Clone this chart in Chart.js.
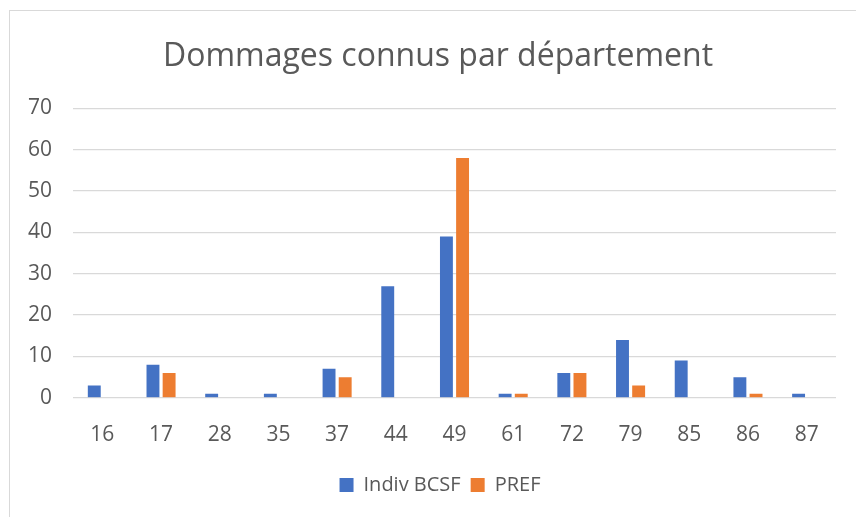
<!DOCTYPE html>
<html>
<head>
<meta charset="utf-8">
<script src="https://cdn.jsdelivr.net/npm/chart.js@4/dist/chart.umd.min.js"></script>
<style>
    html, body { margin: 0; padding: 0; background: #fff; }
    #frame {
        position: absolute; left: 9px; top: 10px; width: 860px; height: 520px;
        border-left: 1px solid #d9d9d9; border-top: 1px solid #d9d9d9;
    }
    #wrap { position: absolute; left: 0; top: 0; width: 856px; height: 517px; }
</style>
</head>
<body>
<div id="frame"></div>
<div id="wrap"><canvas id="chart"></canvas></div>
<script>
// Départements et nombre de dommages connus
const departements = ['16', '17', '28', '35', '37', '44', '49', '61', '72', '79', '85', '86', '87'];
const indivBCSF = [3, 8, 1, 1, 7, 27, 39, 1, 6, 14, 9, 5, 1];
const pref = [null, 6, null, null, 5, null, 58, 1, 6, 3, null, 1, null];
const yTicks = [0, 10, 20, 30, 40, 50, 60, 70];

const FONT = '"Open Sans", "Liberation Sans", sans-serif';
const GREY = '#595959';

// titre et légende centrés sur tout le cadre (décalés vers la droite)
const shiftBlocks = {
    id: 'shiftBlocks',
    afterLayout(chart) {
        if (chart.titleBlock) chart.titleBlock.left += 40;
        if (chart.legend) chart.legend.left += 44;
    }
};

const ctx = document.getElementById('chart');
new Chart(ctx, {
    type: 'bar',
    data: {
        labels: departements,
        datasets: [
            {
                label: 'Indiv BCSF',
                data: indivBCSF,
                backgroundColor: '#4472c4',
                barPercentage: 0.8,
                categoryPercentage: 0.55
            },
            {
                label: 'PREF',
                data: pref,
                backgroundColor: '#ed7d31',
                barPercentage: 0.8,
                categoryPercentage: 0.55
            }
        ]
    },
    options: {
        responsive: true,
        maintainAspectRatio: false,
        animation: false,
        layout: { padding: { left: 0, right: 20, top: 38, bottom: 12 } },
        scales: {
            x: {
                grid: { display: false },
                border: { display: false },
                ticks: { color: GREY, font: { family: FONT, size: 21 }, padding: 17 }
            },
            y: {
                min: 0,
                max: 70,
                afterBuildTicks: (axis) => { axis.ticks = yTicks.map(v => ({ value: v })); },
                afterFit: (axis) => { axis.width = 73; },
                grid: { color: '#d9d9d9', lineWidth: 1.3, drawTicks: false },
                border: { display: false },
                ticks: { color: GREY, font: { family: FONT, size: 21 }, padding: 21 }
            }
        },
        plugins: {
            title: {
                display: true,
                text: 'Dommages connus par département',
                color: GREY,
                font: { family: FONT, size: 32, weight: 'normal' },
                padding: { top: 0, bottom: 32 }
            },
            legend: {
                position: 'bottom',
                labels: {
                    color: GREY,
                    font: { family: FONT, size: 20 },
                    boxWidth: 14,
                    boxHeight: 14,
                    padding: 10
                }
            },
            tooltip: { enabled: false }
        }
    },
    plugins: [shiftBlocks]
});
</script>
</body>
</html>
